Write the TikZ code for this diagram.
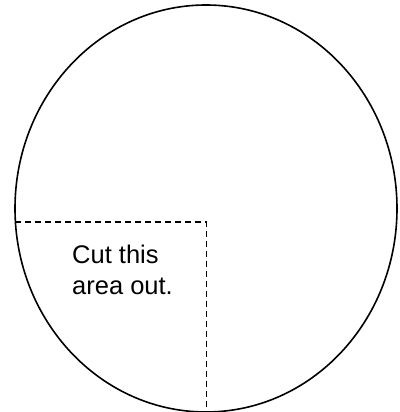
\documentclass[tikz,border=0pt]{standalone}
\usepackage{fontspec}
\setmainfont{Liberation Sans}
\begin{document}
\begin{tikzpicture}[x=1pt,y=1pt,
  outline/.style={draw=black,line width=1.6pt},
  cutline/.style={draw=black,line width=1.3pt,dash pattern=on 6pt off 4pt},
  label/.style={font=\fontsize{25.5}{31}\selectfont,align=left,inner sep=0pt}]
\useasboundingbox (0,0) rectangle (399,412);
\coordinate (c) at (206,203.5);
\draw[outline] (c) ellipse [x radius=191, y radius=203.5];
\coordinate (l) at (15.4,190);
\coordinate (k) at (206.7,190);
\coordinate (b) at (206.7,0);
\draw[cutline] (l) -- (k) -- (b);
\node[label,anchor=base west] (t) at (72,117) {Cut this\\area out.};
\end{tikzpicture}
\end{document}
